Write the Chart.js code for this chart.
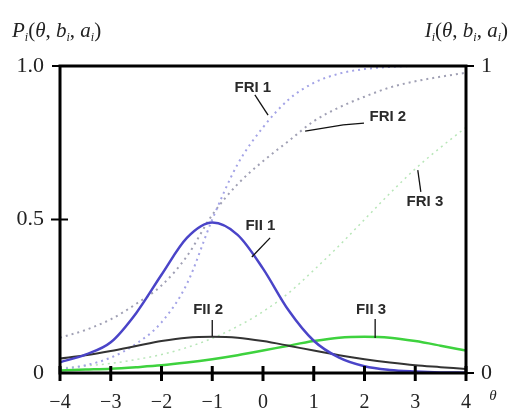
<!DOCTYPE html>
<html>
<head>
<meta charset="utf-8">
<script src="https://cdn.jsdelivr.net/npm/chart.js@4/dist/chart.umd.min.js"></script>
<style>
  html, body { margin: 0; padding: 0; background: #fff; }
  #wrap { width: 509px; height: 412px; }
</style>
</head>
<body>
<div id="wrap"><canvas id="c" width="509" height="412"></canvas></div>
<script>
// ---- data ----
const theta = [-4, -3.5, -3, -2.5, -2, -1.5, -1, -0.5, 0, 0.5, 1, 1.5, 2, 2.5, 3, 3.5, 4];
const fri1 = [0.012, 0.025, 0.05, 0.095, 0.165, 0.29, 0.50, 0.68, 0.80, 0.89, 0.945, 0.975, 0.99, 0.997, 1.0, 1.0, 1.0];
const fri2 = [0.115, 0.14, 0.175, 0.225, 0.285, 0.38, 0.515, 0.615, 0.69, 0.755, 0.82, 0.865, 0.90, 0.93, 0.95, 0.965, 0.978];
const fri3 = [0.016, 0.023, 0.031, 0.044, 0.06, 0.083, 0.113, 0.152, 0.20, 0.26, 0.335, 0.415, 0.50, 0.585, 0.665, 0.735, 0.80];
const fii1 = [0.035, 0.06, 0.10, 0.195, 0.32, 0.44, 0.49, 0.45, 0.34, 0.205, 0.105, 0.05, 0.022, 0.01, 0.005, 0.002, 0.001];
const fii2 = [0.047, 0.058, 0.072, 0.088, 0.104, 0.115, 0.118, 0.115, 0.104, 0.089, 0.073, 0.058, 0.045, 0.034, 0.025, 0.019, 0.013];
const fii3 = [0.008, 0.011, 0.014, 0.019, 0.025, 0.034, 0.045, 0.058, 0.073, 0.089, 0.104, 0.115, 0.118, 0.115, 0.104, 0.089, 0.073];
const xTicks = [-4, -3, -2, -1, 0, 1, 2, 3, 4];
const yTicksLeft = [0, 0.5, 1];
const yTicksRight = [0, 1];
const curveLabels = ['FII 1', 'FII 2', 'FII 3', 'FRI 1', 'FRI 2', 'FRI 3'];

const pts = arr => theta.map((t, i) => ({ x: t, y: arr[i] }));

// annotation positions (data coordinates): text centre and leader polyline
const annot = [
  { text: curveLabels[0], at: [-0.05, 0.478], line: [[0.14, 0.44], [-0.22, 0.378]] },
  { text: curveLabels[1], at: [-1.08, 0.205], line: [[-1.0, 0.173], [-1.0, 0.12]] },
  { text: curveLabels[2], at: [2.13, 0.205], line: [[2.21, 0.176], [2.21, 0.114]] },
  { text: curveLabels[3], at: [-0.20, 0.928], line: [[-0.16, 0.906], [0.10, 0.84]] },
  { text: curveLabels[4], at: [2.46, 0.834], line: [[1.99, 0.814], [1.58, 0.808], [0.83, 0.788]] },
  { text: curveLabels[5], at: [3.19, 0.557], line: [[3.11, 0.59], [3.05, 0.661]] }
];

const decor = {
  id: 'decor',
  afterDatasetsDraw(chart) {
    const { ctx, chartArea: a, scales } = chart;
    const xs = scales.x, ys = scales.y;
    ctx.save();
    // frame
    ctx.strokeStyle = '#000';
    ctx.lineWidth = 3;
    ctx.strokeRect(a.left, a.top, a.right - a.left, a.bottom - a.top);
    // x tick marks (crossing the axis)
    ctx.lineWidth = 3;
    xTicks.forEach(v => {
      const px = xs.getPixelForValue(v);
      ctx.beginPath(); ctx.moveTo(px, a.bottom - 7); ctx.lineTo(px, a.bottom + 8); ctx.stroke();
    });
    // y tick marks
    ctx.lineWidth = 2;
    const ymid = ys.getPixelForValue(0.5);
    ctx.beginPath(); ctx.moveTo(a.left - 9, ymid); ctx.lineTo(a.left + 8, ymid); ctx.stroke();
    const ytop = ys.getPixelForValue(1);
    ctx.beginPath(); ctx.moveTo(a.left - 8, ytop); ctx.lineTo(a.left, ytop); ctx.stroke();
    ctx.beginPath(); ctx.moveTo(a.right, ytop); ctx.lineTo(a.right + 8, ytop); ctx.stroke();
    const ybot = ys.getPixelForValue(0);
    ctx.beginPath(); ctx.moveTo(a.right, ybot); ctx.lineTo(a.right + 8, ybot); ctx.stroke();

    // annotations
    ctx.fillStyle = '#2a2a2a';
    ctx.strokeStyle = '#111';
    ctx.lineWidth = 1.3;
    ctx.font = 'bold 15px "Liberation Sans", Arial, sans-serif';
    ctx.textAlign = 'center';
    ctx.textBaseline = 'middle';
    annot.forEach(an => {
      ctx.fillText(an.text, xs.getPixelForValue(an.at[0]), ys.getPixelForValue(an.at[1]));
      ctx.beginPath();
      an.line.forEach((p, i) => {
        const px = xs.getPixelForValue(p[0]), py = ys.getPixelForValue(p[1]);
        if (i === 0) ctx.moveTo(px, py); else ctx.lineTo(px, py);
      });
      ctx.stroke();
    });

    // axis titles with subscripts
    function rich(parts, x, y, align) {
      let w = 0;
      parts.forEach(p => { ctx.font = p[1]; w += ctx.measureText(p[0]).width; });
      let cx = align === 'right' ? x - w : x;
      ctx.textAlign = 'left';
      ctx.textBaseline = 'alphabetic';
      parts.forEach(p => {
        ctx.font = p[1];
        ctx.fillText(p[0], cx, y + (p[2] || 0));
        cx += ctx.measureText(p[0]).width;
      });
    }
    ctx.fillStyle = '#222';
    const it = 'italic 21px "Liberation Serif", "DejaVu Serif", serif';
    const rm = '21px "Liberation Serif", "DejaVu Serif", serif';
    const sb = 'italic 12px "Liberation Serif", "DejaVu Serif", serif';
    rich([['P', it], ['i', sb, 4], ['(', rm], ['θ', it], [', ', rm], ['b', it], ['i', sb, 4], [', ', rm], ['a', it], ['i', sb, 4], [')', rm]], 12, 37, 'left');
    rich([['I', it], ['i', sb, 4], ['(', rm], ['θ', it], [', ', rm], ['b', it], ['i', sb, 4], [', ', rm], ['a', it], ['i', sb, 4], [')', rm]], 508, 37, 'right');
    // theta label at x-axis end
    ctx.font = 'italic 15px "Liberation Serif", "DejaVu Serif", serif';
    ctx.textAlign = 'center';
    ctx.textBaseline = 'middle';
    ctx.fillText('θ', 493, 396);
    ctx.restore();
  }
};

const serif = '"Liberation Serif", "DejaVu Serif", serif';

new Chart(document.getElementById('c'), {
  type: 'line',
  data: {
    datasets: [
      { label: curveLabels[0], data: pts(fii1), borderColor: '#4a44c8', borderWidth: 2.5 },
      { label: curveLabels[1], data: pts(fii2), borderColor: '#333333', borderWidth: 2 },
      { label: curveLabels[2], data: pts(fii3), borderColor: '#3ed23e', borderWidth: 2.5 },
      { label: curveLabels[3], data: pts(fri1), borderColor: '#a3a3e6', borderWidth: 2, borderDash: [2, 4] },
      { label: curveLabels[4], data: pts(fri2), borderColor: '#a0a0b4', borderWidth: 2, borderDash: [2, 4] },
      { label: curveLabels[5], data: pts(fri3), borderColor: '#b8e6b8', borderWidth: 1.5, borderDash: [2, 4] }
    ]
  },
  options: {
    responsive: false,
    animation: false,
    devicePixelRatio: 1,
    layout: { padding: { top: 66, left: 0, right: 0, bottom: 0 } },
    elements: {
      point: { radius: 0 },
      line: { tension: 0.4, cubicInterpolationMode: 'monotone', fill: false }
    },
    plugins: { legend: { display: false }, tooltip: { enabled: false }, title: { display: false } },
    scales: {
      x: {
        type: 'linear', position: 'bottom', min: -4, max: 4,
        afterBuildTicks: s => { s.ticks = xTicks.map(v => ({ value: v })); },
        ticks: {
          callback: v => (v < 0 ? '\u2212' + Math.abs(v) : String(v)),
          font: { family: serif, size: 20 }, color: '#222', padding: 18, maxRotation: 0, autoSkip: false
        },
        grid: { display: false, drawTicks: false },
        border: { display: false },
        afterFit: s => { s.height = 39; }
      },
      y: {
        position: 'left', min: 0, max: 1,
        afterBuildTicks: s => { s.ticks = yTicksLeft.map(v => ({ value: v })); },
        ticks: {
          callback: v => (v === 1 ? '1.0' : v === 0.5 ? '0.5' : '0'),
          font: { family: serif, size: 22 }, color: '#222', padding: 16
        },
        grid: { display: false, drawTicks: false },
        border: { display: false },
        afterFit: s => { s.width = 60; }
      },
      y2: {
        position: 'right', min: 0, max: 1,
        afterBuildTicks: s => { s.ticks = yTicksRight.map(v => ({ value: v })); },
        ticks: {
          callback: v => String(v),
          font: { family: serif, size: 22 }, color: '#222', padding: 15
        },
        grid: { display: false, drawTicks: false },
        border: { display: false },
        afterFit: s => { s.width = 43; }
      }
    }
  },
  plugins: [decor]
});
</script>
</body>
</html>
